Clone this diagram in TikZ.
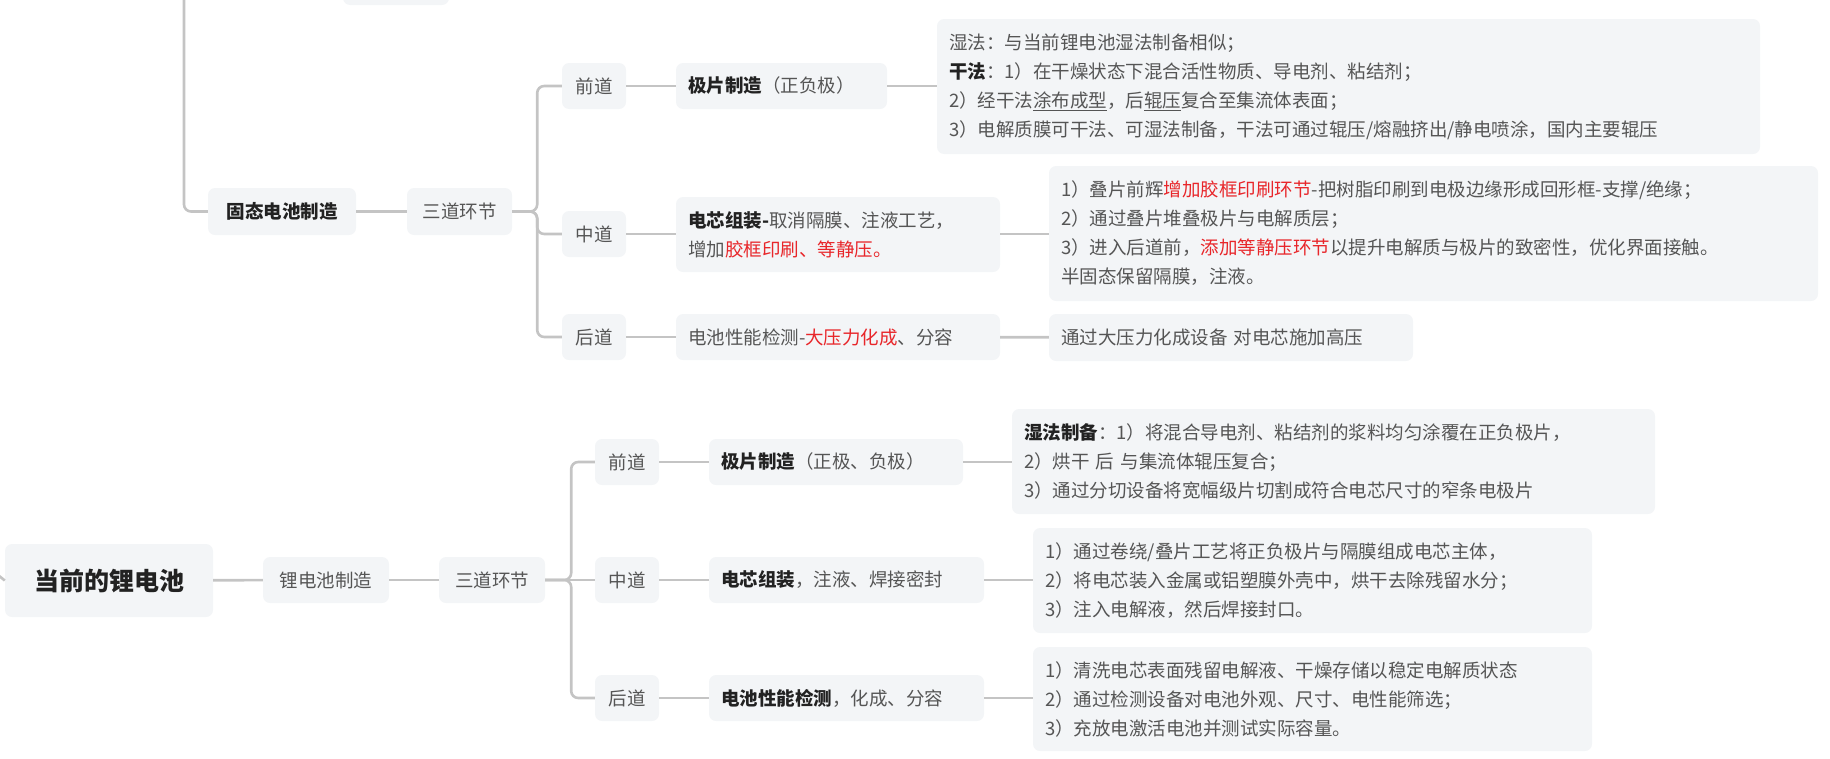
\documentclass[tikz,border=0pt]{standalone}
\usepackage{fontspec}
\setmainfont{Noto Sans CJK SC}
\definecolor{boxf}{HTML}{F3F5F7}
\definecolor{txt}{HTML}{555555}
\definecolor{dark}{HTML}{222222}
\definecolor{lin}{HTML}{C4C4C4}
\definecolor{rd}{HTML}{E8262A}
\newcommand{\R}[1]{\textcolor{rd}{#1}}
\newcommand{\B}[1]{\textcolor{dark}{\textbf{#1}}}
\begin{document}
\begin{tikzpicture}[x=1pt,y=-1pt,
  bx/.style={fill=boxf,rounded corners=7pt,inner sep=0pt,text=txt,
    font=\fontsize{18.5}{29}\selectfont},
  tb/.style={bx,align=left,inner xsep=12pt},
  conn/.style={draw=lin,line width=2.6pt,rounded corners=7pt}]
\useasboundingbox (0,0) rectangle (1830,758);
% helper: box at center with size
% ---------- top ----------
\node[bx,minimum width=106,minimum height=40] (topf) at (396,-15) {};
\coordinate (topc) at (184,-20);
\node[bx,minimum width=148,minimum height=47,font=\fontsize{18.5}{29}\selectfont\bfseries,text=dark] (gt) at (282,211.5) {固态电池制造};
\node[bx,minimum width=105,minimum height=47] (s1) at (459.5,211.5) {三道环节};
\node[bx,minimum width=64,minimum height=46] (q1) at (594,86) {前道};
\node[bx,minimum width=64,minimum height=46] (z1) at (594,234) {中道};
\node[bx,minimum width=64,minimum height=46] (h1) at (594,337) {后道};
\node[tb,text width=187,minimum height=46] (a1) at (781.5,86) {\B{极片制造}（正负极）};
\node[tb,text width=300,minimum height=75] (b1) at (838,234.5) {\B{电芯组装-}取消隔膜、注液工艺，\\增加\R{胶框印刷、等静压。}};
\node[tb,text width=300,minimum height=46] (c1) at (838,337) {电池性能检测-\R{大压力化成}、分容};
\node[tb,text width=799,minimum height=135] (a1d) at (1348.5,86.5) {湿法：与当前锂电池湿法制备相似；\\\B{干法}：1）在干燥状态下混合活性物质、导电剂、粘结剂；\\2）经干法\underline{涂布成型}，后\underline{辊压}复合至集流体表面；\\3）电解质膜可干法、可湿法制备，干法可通过辊压/熔融挤出/静电喷涂，国内主要辊压};
\node[tb,text width=745,minimum height=135] (b1d) at (1433.5,233.5) {1）叠片前辉\R{增加胶框印刷环节}-把树脂印刷到电极边缘形成回形框-支撑/绝缘；\\2）通过叠片堆叠极片与电解质层；\\3）进入后道前，\R{添加等静压环节}以提升电解质与极片的致密性，优化界面接触。\\半固态保留隔膜，注液。};
\node[tb,text width=340,minimum height=47] (c1d) at (1231,337.5) {通过大压力化成设备 对电芯施加高压};
% ---------- bottom ----------
\coordinate (lc) at (-2,575);
\node[bx,minimum width=208,minimum height=73,font=\fontsize{25}{30}\selectfont\bfseries,text=dark] (root) at (109,580.5) {当前的锂电池};
\node[bx,minimum width=126,minimum height=46] (m2) at (326,580) {锂电池制造};
\node[bx,minimum width=106,minimum height=46] (s2) at (492,580) {三道环节};
\node[bx,minimum width=64,minimum height=46] (q2) at (627,462) {前道};
\node[bx,minimum width=64,minimum height=46] (z2) at (627,580) {中道};
\node[bx,minimum width=64,minimum height=46] (h2) at (627,698) {后道};
\node[tb,text width=230,minimum height=46] (a2) at (836,462) {\B{极片制造}（正极、负极）};
\node[tb,text width=251,minimum height=46] (b2) at (846.5,580) {\B{电芯组装}，注液、焊接密封};
\node[tb,text width=251,minimum height=46] (c2) at (846.5,698) {\B{电池性能检测}，化成、分容};
\node[tb,text width=619,minimum height=105] (a2d) at (1333.5,461.5) {\B{湿法制备}：1）将混合导电剂、粘结剂的浆料均匀涂覆在正负极片，\\2）烘干 后 与集流体辊压复合；\\3）通过分切设备将宽幅级片切割成符合电芯尺寸的窄条电极片};
\node[tb,text width=535,minimum height=105] (b2d) at (1312.5,580.5) {1）通过卷绕/叠片工艺将正负极片与隔膜组成电芯主体，\\2）将电芯装入金属或铝塑膜外壳中，烘干去除残留水分；\\3）注入电解液，然后焊接封口。};
\node[tb,text width=535,minimum height=104] (c2d) at (1312.5,699) {1）清洗电芯表面残留电解液、干燥存储以稳定电解质状态\\2）通过检测设备对电池外观、尺寸、电性能筛选；\\3）充放电激活电池并测试实际容量。};
% ---------- connectors ----------
\draw[conn] (topc) |- (gt.west);
\draw[conn] (gt) -- (s1);
\draw[conn] (s1.east) -- ++(25,0) |- (q1.west);
\draw[conn] (s1.east) -- ++(25,0) |- (z1.west);
\draw[conn] (s1.east) -- ++(25,0) |- (h1.west);
\draw[conn] (q1) -- (a1);
\draw[conn] (z1) -- (b1.west|-z1);
\draw[conn] (h1) -- (c1);
\draw[conn] (a1) -- (a1d.west|-a1);
\draw[conn] (b1.east|-z1) -- (b1d.west|-z1);
\draw[conn] (c1) -- (c1d);
\draw[conn] (lc) -- (root.west);
\draw[conn] (root) -- (m2);
\draw[conn] (m2) -- (s2);
\draw[conn] (s2.east) -- ++(26,0) |- (q2.west);
\draw[conn] (s2.east) -- (z2.west);
\draw[conn] (s2.east) -- ++(26,0) |- (h2.west);
\draw[conn] (q2) -- (a2);
\draw[conn] (z2) -- (b2);
\draw[conn] (h2) -- (c2);
\draw[conn] (a2) -- (a2d.west|-a2);
\draw[conn] (b2) -- (b2d.west|-b2);
\draw[conn] (c2) -- (c2d.west|-c2);
\end{tikzpicture}
\end{document}
